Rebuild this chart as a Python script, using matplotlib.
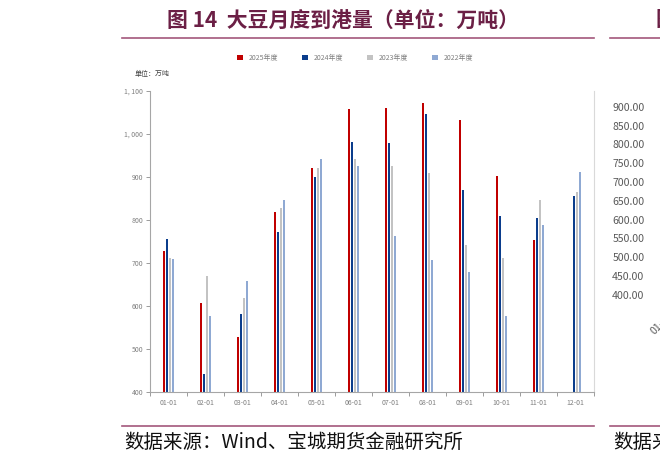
import matplotlib
matplotlib.use("Agg")
import matplotlib.pyplot as plt
import numpy as np
from matplotlib.lines import Line2D
from matplotlib.ticker import FixedLocator, FuncFormatter

plt.rcParams['font.family'] = ['Noto Sans CJK SC', 'DejaVu Sans']

# ---- data ----
months = ["01-01", "02-01", "03-01", "04-01", "05-01", "06-01",
          "07-01", "08-01", "09-01", "10-01", "11-01", "12-01"]
series_names = ["2025年度", "2024年度", "2023年度", "2022年度"]
y2025 = [727, 608, 527, 818, 920, 1057, 1060, 1071, 1032, 902, 753, np.nan]
y2024 = [755, 441, 582, 773, 901, 982, 978, 1046, 869, 809, 804, 855]
y2023 = [712, 669, 619, 827, 922, 941, 925, 909, 743, 712, 846, 864]
y2022 = [709, 576, 659, 846, 941, 925, 762, 706, 680, 576, 788, 911]
colors = ["#c00000", "#0b3d8c", "#c3c3c3", "#8fa9d3"]
yticks_main = [400, 500, 600, 700, 800, 900, 1000, 1100]
right_ticks = [400, 450, 500, 550, 600, 650, 700, 750, 800, 850, 900]
right_xlabels = ["01-01"]

W, H = 660, 463
fig = plt.figure(figsize=(W / 100, H / 100), dpi=100)
fig.patch.set_facecolor("white")

def fx(px):
    return px / W

def fy(py):
    return 1 - py / H

# ---- main axes ----
ax = fig.add_axes([fx(150), fy(392), fx(594) - fx(150), fy(91) - fy(392)])
x = np.arange(len(months))
step = 0.081
bw = 0.074
all_series = [y2025, y2024, y2023, y2022]
for i, (vals, c, name) in enumerate(zip(all_series, colors, series_names)):
    ax.bar(x + (i - 1.5) * step, vals, width=bw, color=c, label=name,
           linewidth=0, zorder=2)

ax.set_xlim(-0.5, len(months) - 0.5)
ax.set_ylim(400, 1100)
ax.set_yticks(yticks_main)
ax.yaxis.set_major_formatter(FuncFormatter(lambda v, p: f"{int(v):,}".replace(",", ", ")))
ax.set_xticks(x)
ax.set_xticklabels(months)
ax.xaxis.set_minor_locator(FixedLocator(np.arange(-0.5, len(months), 1.0)))
ax.tick_params(axis="x", which="major", length=0, pad=5, labelsize=5, labelcolor="#7f7f7f")
ax.tick_params(axis="x", which="minor", length=3, width=0.6, color="#8c8c8c", direction="out")
ax.tick_params(axis="y", length=3, width=0.6, color="#8c8c8c", pad=2,
               labelsize=5, labelcolor="#7f7f7f")
ax.spines["top"].set_visible(False)
ax.spines["left"].set_color("#a6a6a6")
ax.spines["bottom"].set_color("#a6a6a6")
ax.spines["right"].set_color("#d9d9d9")
for s in ["left", "bottom", "right"]:
    ax.spines[s].set_linewidth(0.8)

handles, labels = ax.get_legend_handles_labels()
fig.legend(handles, labels, loc="center", bbox_to_anchor=(fx(355), fy(58)),
           ncol=4, frameon=False, fontsize=5, handlelength=0.9, handleheight=0.9,
           columnspacing=3.4, handletextpad=0.8, labelcolor="#7f7f7f")

fig.text(fx(135), fy(74), "单位：万吨", fontsize=5, color="#404040", va="center", ha="left")

# ---- title, rules and source ----
title_color = "#6b1f45"
rule_color = "#a3577c"
fig.text(fx(167), fy(20), "图 14  大豆月度到港量（单位：万吨）", fontsize=15,
         fontweight="bold", color=title_color, va="center", ha="left")
fig.add_artist(Line2D([fx(122), fx(594)], [fy(38), fy(38)], color=rule_color, lw=1.2))
fig.add_artist(Line2D([fx(610), fx(660)], [fy(38), fy(38)], color=rule_color, lw=1.2))
fig.add_artist(Line2D([fx(122), fx(594)], [fy(426), fy(426)], color=rule_color, lw=1.2))
fig.add_artist(Line2D([fx(610), fx(660)], [fy(426), fy(426)], color=rule_color, lw=1.2))
fig.text(fx(124), fy(442), "数据来源：Wind、宝城期货金融研究所", fontsize=14,
         color="#111111", va="center", ha="left")
fig.text(fx(613), fy(442), "数据来源：Wind、宝城期货金融研究所", fontsize=14,
         color="#111111", va="center", ha="left")
fig.text(fx(656.5), fy(20), "图 15", fontsize=15, fontweight="bold",
         color=title_color, va="center", ha="left")

# ---- neighbouring (cropped) chart ----
ax2 = fig.add_axes([fx(650), fy(305), 0.4, fy(88) - fy(305)])
ax2.set_ylim(373, 950)
ax2.set_yticks(right_ticks)
ax2.yaxis.set_major_formatter(FuncFormatter(lambda v, p: f"{v:.2f}"))
ax2.set_xlim(-0.68, 9.32)
ax2.set_xticks(np.arange(len(right_xlabels)))
ax2.set_xticklabels(right_xlabels, rotation=45, ha="right", rotation_mode="anchor")
ax2.tick_params(axis="both", length=0, labelsize=7.6, labelcolor="#595959", pad=4)
for s in ax2.spines.values():
    s.set_visible(False)
ax2.patch.set_alpha(0)

fig.savefig("out.png", dpi=100, facecolor="white")
